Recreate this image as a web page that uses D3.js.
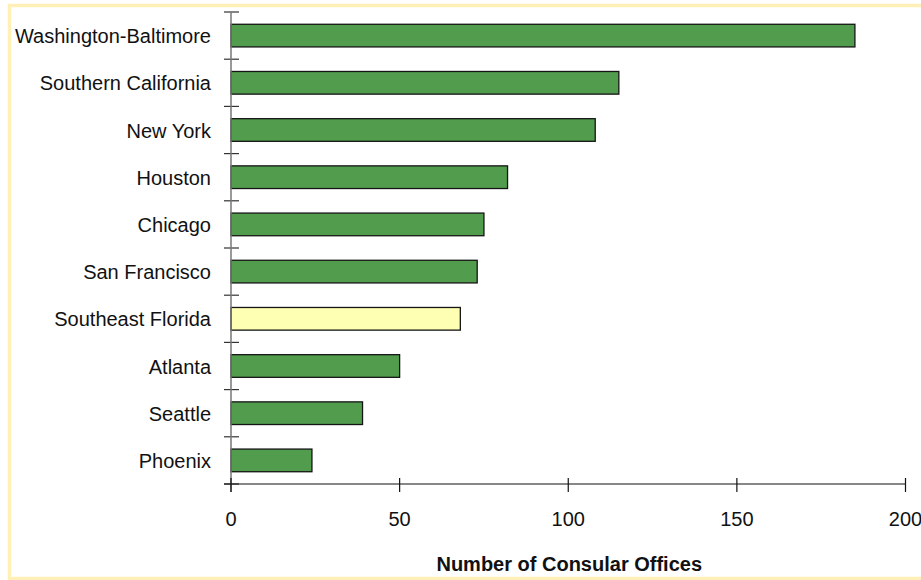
<!DOCTYPE html>
<html>
<head>
<meta charset="utf-8">
<script src="https://cdn.jsdelivr.net/npm/d3@7"></script>
<style>
  html, body { margin: 0; padding: 0; background: #ffffff; }
  svg { display: block; }
</style>
</head>
<body>
<svg id="chart" width="921" height="580"></svg>
<script>
// Metro areas ranked by number of consular offices
const categories = [
  "Washington-Baltimore", "Southern California", "New York", "Houston",
  "Chicago", "San Francisco", "Southeast Florida", "Atlanta", "Seattle", "Phoenix"
];
const offices = [185, 115, 108, 82, 75, 73, 68, 50, 39, 24];
const highlighted = ["Southeast Florida"];
const xTicks = [0, 50, 100, 150, 200];
const xTitle = "Number of Consular Offices";

const svg = d3.select("#chart");
const W = 921, H = 580;
const plot = { left: 231, right: 905.5, top: 12, bottom: 484 };

// Outer frame
svg.append("rect")
  .attr("x", 9.5).attr("y", 5.5)
  .attr("width", W + 10).attr("height", 573)
  .attr("fill", "none")
  .attr("stroke", "#FFF0B8")
  .attr("stroke-width", 3.5);

const x = d3.scaleLinear().domain([0, 200]).range([plot.left, plot.right]);
const y = d3.scaleBand().domain(categories)
  .range([plot.top, plot.bottom])
  .paddingInner(0.52).paddingOuter(0.26);

const font = "'Liberation Sans', Arial, sans-serif";

// Bars
svg.append("g").selectAll("rect")
  .data(categories.map((c, i) => ({ c, v: offices[i] })))
  .join("rect")
  .attr("x", x(0))
  .attr("y", d => y(d.c))
  .attr("width", d => x(d.v) - x(0))
  .attr("height", y.bandwidth())
  .attr("fill", d => highlighted.includes(d.c) ? "#FFFFB4" : "#529C4D")
  .attr("stroke", "#151515")
  .attr("stroke-width", 1.3);

// Category axis: labels and crossing tick marks at band boundaries
const step = (plot.bottom - plot.top) / categories.length;
const gy = svg.append("g");
gy.selectAll("line.tick")
  .data(d3.range(categories.length + 1))
  .join("line")
  .attr("class", "tick")
  .attr("x1", plot.left - 7).attr("x2", plot.left + 8)
  .attr("y1", i => plot.top + i * step).attr("y2", i => plot.top + i * step)
  .attr("stroke", "#333").attr("stroke-width", 1.2);
gy.append("line")
  .attr("x1", plot.left).attr("x2", plot.left)
  .attr("y1", plot.top).attr("y2", plot.bottom + 8)
  .attr("stroke", "#777").attr("stroke-width", 1.5);
gy.selectAll("text")
  .data(categories)
  .join("text")
  .attr("x", 211)
  .attr("y", d => y(d) + y.bandwidth() / 2)
  .attr("dy", "0.38em")
  .attr("text-anchor", "end")
  .attr("font-family", font)
  .attr("font-size", 20)
  .attr("fill", "#111")
  .text(d => d);

// Value axis
const gx = svg.append("g").attr("transform", `translate(0,${plot.bottom})`);
gx.append("line")
  .attr("x1", plot.left - 7).attr("x2", plot.right)
  .attr("stroke", "#111").attr("stroke-width", 1.2);
gx.selectAll("line.tick")
  .data(xTicks)
  .join("line")
  .attr("class", "tick")
  .attr("x1", d => x(d)).attr("x2", d => x(d))
  .attr("y1", -6).attr("y2", 8)
  .attr("stroke", "#111").attr("stroke-width", 1.2);
gx.selectAll("text")
  .data(xTicks)
  .join("text")
  .attr("x", d => x(d))
  .attr("y", 42)
  .attr("text-anchor", "middle")
  .attr("font-family", font)
  .attr("font-size", 20)
  .attr("fill", "#111")
  .text(d => d);

// Axis title
svg.append("text")
  .attr("x", (plot.left + plot.right) / 2 + 1)
  .attr("y", 571)
  .attr("text-anchor", "middle")
  .attr("font-family", font)
  .attr("font-size", 20)
  .attr("font-weight", "bold")
  .attr("fill", "#111")
  .text(xTitle);
</script>
</body>
</html>
